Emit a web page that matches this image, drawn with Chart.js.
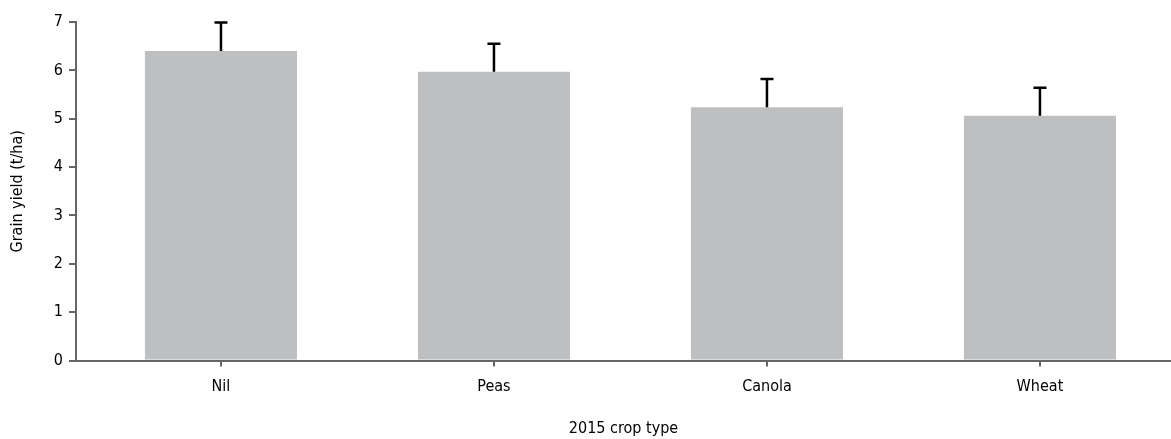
<!DOCTYPE html>
<html>
<head>
<meta charset="utf-8">
<script src="https://cdn.jsdelivr.net/npm/chart.js@4"></script>
<style>
html,body{margin:0;padding:0;background:#fff;}
#wrap{width:1171px;height:439px;position:relative;}
</style>
</head>
<body>
<div id="wrap"><canvas id="c" width="1171" height="439"></canvas></div>
<script>
const categories = ["Nil", "Peas", "Canola", "Wheat"];
const yieldValues = [6.40, 5.97, 5.24, 5.06];
const errorValues = [0.59, 0.58, 0.58, 0.58];
const yTicks = [0, 1, 2, 3, 4, 5, 6, 7];

const FONT = "'Liberation Sans Narrow', 'DejaVu Sans Condensed', 'Roboto Condensed', sans-serif";

const errorBarPlugin = {
  id: 'errorBars',
  afterDatasetsDraw(chart) {
    const ctx = chart.ctx;
    const xs = chart.scales.x, ys = chart.scales.y;
    ctx.save();
    ctx.strokeStyle = '#000';
    ctx.lineWidth = 2.5;
    yieldValues.forEach((v, i) => {
      const x = xs.getPixelForValue(i);
      const y0 = ys.getPixelForValue(v);
      const y1 = ys.getPixelForValue(v + errorValues[i]);
      ctx.beginPath();
      ctx.moveTo(x, y0);
      ctx.lineTo(x, y1);
      ctx.moveTo(x - 6.5, y1);
      ctx.lineTo(x + 6.5, y1);
      ctx.stroke();
    });
    ctx.restore();
  }
};

new Chart(document.getElementById('c'), {
  type: 'bar',
  data: {
    datasets: [{
      data: yieldValues.map((v, i) => ({x: i, y: v})),
      backgroundColor: '#bebfc1',
      borderWidth: 0,
      barPercentage: 0.557,
      categoryPercentage: 1.0
    }]
  },
  options: {
    responsive: false,
    animation: false,
    layout: {padding: {top: 22, right: 0, left: 8, bottom: 1}},
    plugins: {legend: {display: false}, tooltip: {enabled: false}},
    scales: {
      x: {
        type: 'linear',
        offset: false,
        min: -0.531,
        max: 3.48,
        afterBuildTicks(scale) { scale.ticks = categories.map((c, i) => ({value: i})); },
        ticks: {
          callback: (v) => categories[v],
          color: '#000',
          font: {family: FONT, size: 16},
          padding: 11,
          autoSkip: false,
          maxRotation: 0
        },
        grid: {display: true, offset: false, drawOnChartArea: false, drawTicks: true, tickLength: 6, color: '#666', lineWidth: 2},
        border: {display: true, color: '#666', width: 2},
        title: {display: true, text: '2015 crop type', color: '#000', font: {family: FONT, size: 16}, padding: {top: 11, bottom: 0}}
      },
      y: {
        min: 0,
        max: 7,
        afterBuildTicks(scale) { scale.ticks = yTicks.map(v => ({value: v})); },
        afterFit(scale) { scale.width = 68; },
        ticks: {color: '#000', font: {family: FONT, size: 16}, padding: 6},
        grid: {display: true, drawOnChartArea: false, drawTicks: true, tickLength: 7, color: '#666', lineWidth: 2},
        border: {display: true, color: '#666', width: 2},
        title: {display: true, text: 'Grain yield (t/ha)', color: '#000', font: {family: FONT, size: 16}, padding: {top: 0, bottom: 4}}
      }
    }
  },
  plugins: [errorBarPlugin]
});
</script>
</body>
</html>
